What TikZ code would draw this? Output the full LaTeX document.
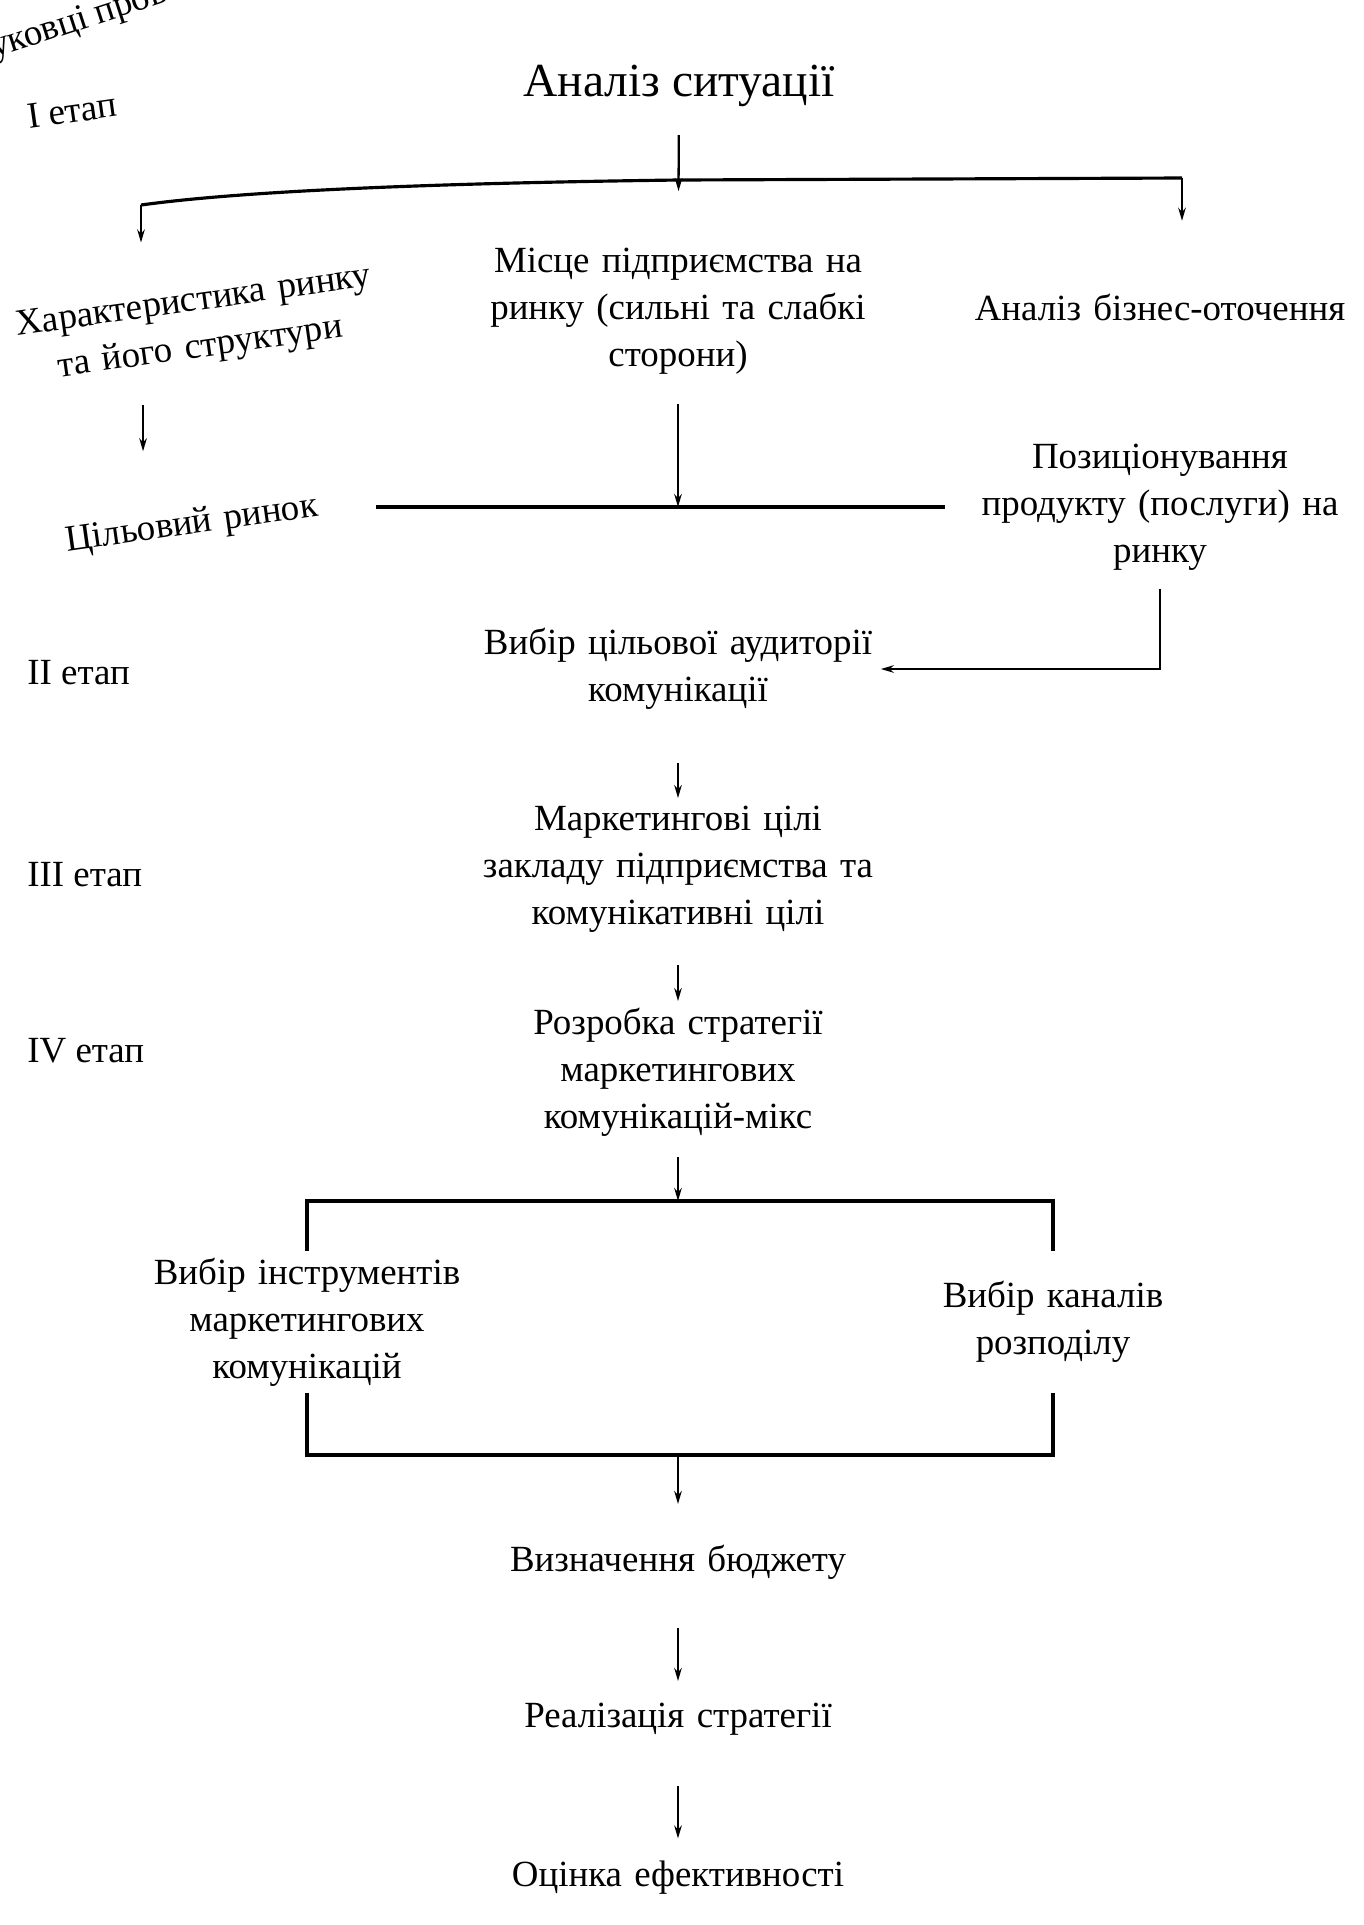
\documentclass[tikz,border=0pt]{standalone}
\usepackage{fontspec}
\setmainfont{Liberation Serif}
\usetikzlibrary{arrows.meta,positioning}
\tikzstyle{txt}=[align=center,inner sep=0pt,font=\fontsize{21}{26.7}\selectfont]
\tikzstyle{lcol}=[txt,text width=7.42cm]
\tikzstyle{mcol}=[txt,text width=8.1cm]
\tikzstyle{rcol}=[txt,text width=8cm]
\tikzstyle{pair}=[txt,text width=7cm,minimum height=2.82cm]
\tikzstyle{stage}=[txt,anchor=west]
\tikzstyle{tilt}=[rotate=8]
\tikzstyle{flow}=[-{Stealth[length=2.6mm,width=1.5mm]},line width=1.3pt]
\tikzstyle{bar}=[line width=1.8pt]

\begin{document}
\begin{tikzpicture}[x=0.02cm,y=-0.02cm]
\useasboundingbox (0,0) rectangle (1364,1925);

\node (frag) [txt,rotate=18,anchor=base west] at (-6,58) {уковці пров};
\node (sit) [txt,font=\fontsize{27}{32}\selectfont] at (679,86) {Аналіз ситуації};

\node (st1) [stage,tilt] at (27,117) {I етап};
\node (st2) [stage] at (27,673) {II етап};
\node (st3) [stage] at (27,875) {III етап};
\node (st4) [stage] at (27,1051) {IV етап};

\node (mkt) [lcol,tilt] at (197,326) {Характеристика ринку\\та його структури};
\node (place) [mcol] at (678,311) {Місце підприємства на\\ринку (сильні та слабкі\\сторони)};
\node (env) [rcol] at (1160,307) {Аналіз бізнес-оточення};
\node (tgt) [lcol,tilt] at (192,525) {Цільовий ринок};
\node (pos) [rcol] at (1160,507) {Позиціонування\\продукту (послуги) на\\ринку};
\node (aud) [mcol] at (678,669) {Вибір цільової аудиторії\\комунікації};
\node (goals) [mcol] at (678,869) {Маркетингові цілі\\закладу підприємства та\\комунікативні цілі};
\node (strat) [mcol] at (678,1072) {Розробка стратегії\\маркетингових\\комунікацій-мікс};
\node (tools) [pair] at (307,1322) {Вибір інструментів\\маркетингових\\комунікацій};
\node (chan) [pair] at (1053,1322) {Вибір каналів\\розподілу};
\node (budget) [mcol] at (678,1562) {Визначення бюджету};
\node (impl) [mcol] at (678,1719) {Реалізація стратегії};
\node (eval) [mcol] at (678,1878) {Оцінка ефективності};

\coordinate (jn) at (678,180);
\coordinate (lbend) at (141,205);
\coordinate (rbend) at (1182,178);
\coordinate (split) at (678,1201);
\coordinate (merge) at (678,1455);

\draw [flow,shorten <=0.56cm,shorten >=1.13cm] (sit) -- (place);
\draw [bar] (lbend) .. controls (250,190) and (450,183) .. (jn) -- (rbend);
\draw [flow,shorten >=0.88cm] (lbend) -- (lbend |- mkt.north);
\draw [flow,shorten >=1.45cm] (rbend) -- (rbend |- env.north);
\draw [flow,shorten <=0.79cm,shorten >=1.14cm] ([xshift=-1.19cm]mkt.south) -- ([xshift=-1.19cm]mkt.south |- tgt.north);
\draw [flow,shorten <=0.6cm] (place) -- (place |- pos.west);
\draw [bar] (tgt.east |- pos.west) -- ([xshift=-0.3cm]pos.west);
\draw [flow,shorten <=0.37cm] (pos) |- (aud);
\draw [flow,shorten <=1.07cm,shorten >=0.15cm] (aud) -- (goals);
\draw [flow,shorten <=0.65cm,shorten >=0.13cm] (goals) -- (strat);
\draw [flow,shorten <=0.41cm] (strat) -- (split);
\draw [bar] (tools.north) |- (split) -| (chan.north);
\draw [bar] (tools.south) |- (merge) -| (chan.south);
\draw [flow,shorten >=0.81cm] (merge) -- (budget);
\draw [flow,shorten <=0.97cm,shorten >=0.43cm] (budget) -- (impl);
\draw [flow,shorten <=1.01cm,shorten >=0.45cm] (impl) -- (eval);

\end{tikzpicture}
\end{document}
